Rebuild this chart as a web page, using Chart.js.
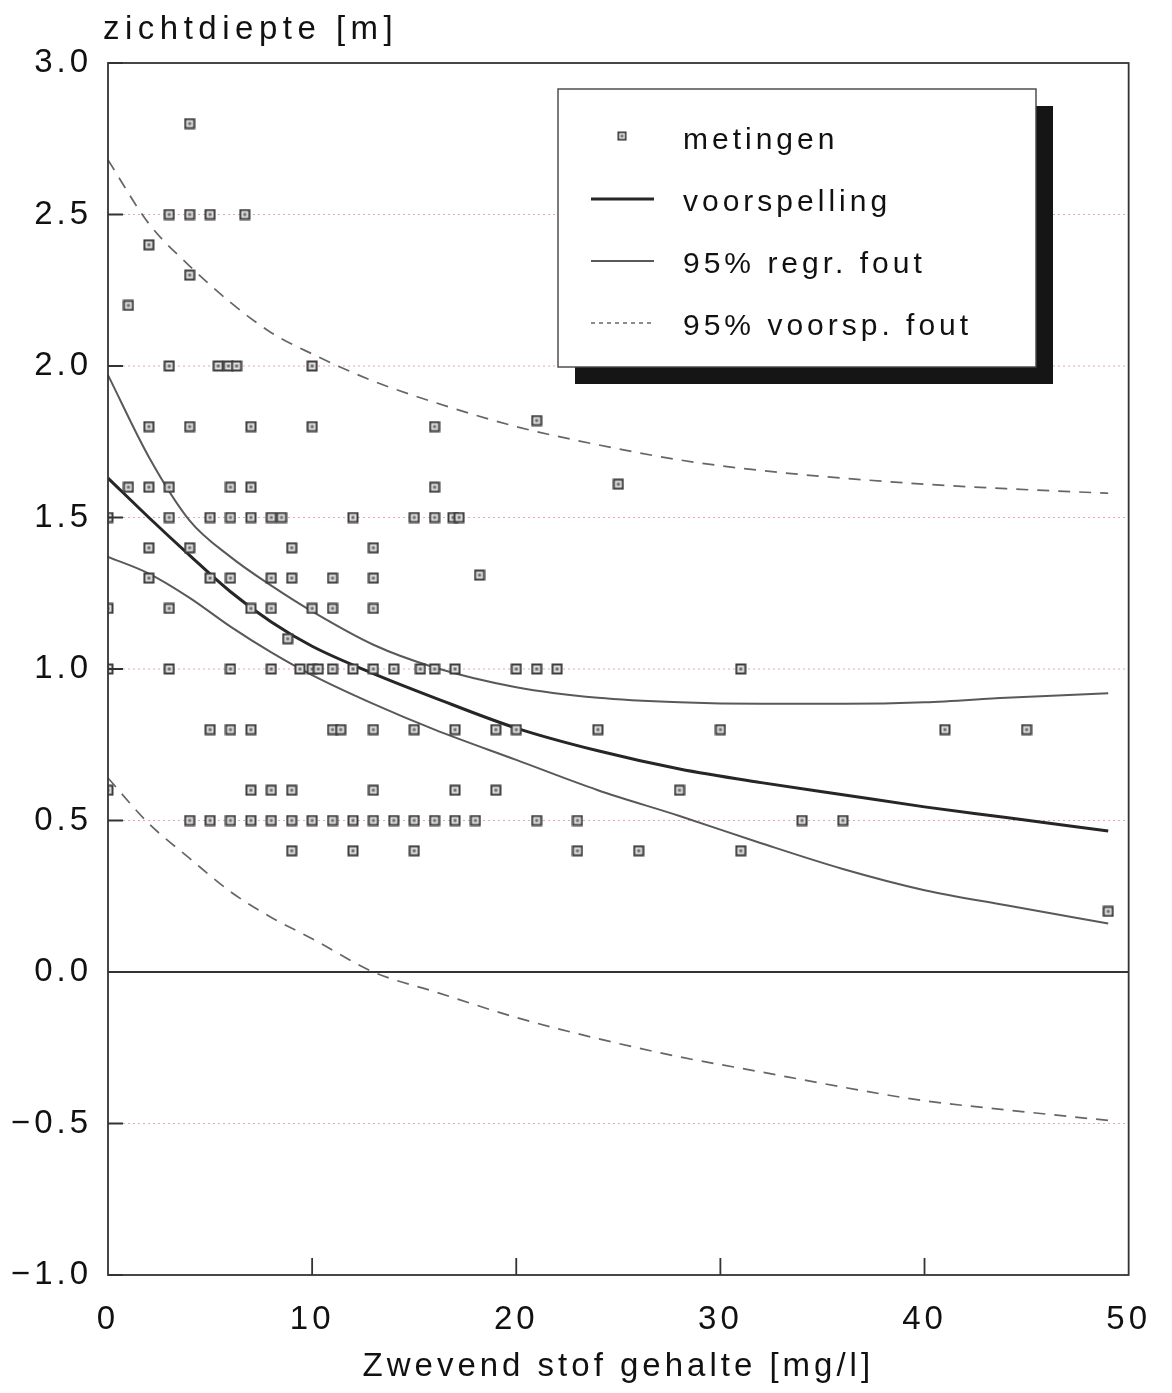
<!DOCTYPE html>
<html>
<head>
<meta charset="utf-8">
<script src="https://cdn.jsdelivr.net/npm/chart.js@4.4.1/dist/chart.umd.min.js"></script>
<style>
  html, body { margin: 0; padding: 0; background: #fff; }
  #wrap { width: 1172px; height: 1393px; }
</style>
</head>
<body>
<div id="wrap"><canvas id="chart" width="1172" height="1393"></canvas></div>
<script>
// metingen (measurements)
const measX = [
  4,
  3, 4, 5, 6.7,
  2, 4, 1,
  3, 5.4, 5.9, 6.3, 10,
  2, 4, 7, 10, 16, 21,
  1, 2, 3, 6, 7, 16, 25,
  0, 3, 5, 6, 7, 8, 8.5, 12, 15, 16, 16.9, 17.2,
  2, 4, 9, 13,
  2, 5, 6, 8, 9, 11, 13, 18.2,
  0, 3, 7, 8, 10, 11, 13,
  8.8,
  0, 3, 6, 8, 9.4, 10, 10.3, 11, 12, 13, 14, 15.3, 16, 17, 20, 21, 22, 31,
  5, 6, 7, 11, 11.4, 13, 15, 17, 19, 20, 24, 30, 41, 45,
  0, 7, 8, 9, 13, 17, 19, 28,
  4, 5, 6, 7, 8, 9, 10, 11, 12, 13, 14, 15, 16, 17, 18, 21, 23, 34, 36,
  9, 12, 15, 23, 26, 31,
  49
]
const measY = [
  2.8,
  2.5, 2.5, 2.5, 2.5,
  2.4, 2.3, 2.2,
  2.0, 2.0, 2.0, 2.0, 2.0,
  1.8, 1.8, 1.8, 1.8, 1.8, 1.82,
  1.6, 1.6, 1.6, 1.6, 1.6, 1.6, 1.61,
  1.5, 1.5, 1.5, 1.5, 1.5, 1.5, 1.5, 1.5, 1.5, 1.5, 1.5, 1.5,
  1.4, 1.4, 1.4, 1.4,
  1.3, 1.3, 1.3, 1.3, 1.3, 1.3, 1.3, 1.31,
  1.2, 1.2, 1.2, 1.2, 1.2, 1.2, 1.2,
  1.1,
  1.0, 1.0, 1.0, 1.0, 1.0, 1.0, 1.0, 1.0, 1.0, 1.0, 1.0, 1.0, 1.0, 1.0, 1.0, 1.0, 1.0, 1.0,
  0.8, 0.8, 0.8, 0.8, 0.8, 0.8, 0.8, 0.8, 0.8, 0.8, 0.8, 0.8, 0.8, 0.8,
  0.6, 0.6, 0.6, 0.6, 0.6, 0.6, 0.6, 0.6,
  0.5, 0.5, 0.5, 0.5, 0.5, 0.5, 0.5, 0.5, 0.5, 0.5, 0.5, 0.5, 0.5, 0.5, 0.5, 0.5, 0.5, 0.5, 0.5,
  0.4, 0.4, 0.4, 0.4, 0.4, 0.4,
  0.2
]

const curveX   = [0, 2, 4, 6, 8, 10, 13, 16, 20, 24, 28, 32, 36, 40, 44, 49]
const voorspel = [1.63, 1.50, 1.375, 1.255, 1.155, 1.075, 0.985, 0.905, 0.805, 0.73, 0.67, 0.625, 0.585, 0.545, 0.51, 0.465]
const regrHoog = [1.97, 1.70, 1.49, 1.37, 1.275, 1.19, 1.08, 1.005, 0.94, 0.905, 0.89, 0.885, 0.885, 0.89, 0.905, 0.92]
const regrLaag = [1.37, 1.315, 1.235, 1.14, 1.055, 0.98, 0.885, 0.80, 0.70, 0.60, 0.515, 0.425, 0.34, 0.27, 0.22, 0.16]
const vspHoog  = [2.68, 2.47, 2.33, 2.21, 2.11, 2.04, 1.95, 1.88, 1.80, 1.74, 1.69, 1.655, 1.63, 1.61, 1.595, 1.58]
const vspLaag  = [0.64, 0.49, 0.375, 0.265, 0.18, 0.11, 0.0, -0.065, -0.15, -0.22, -0.28, -0.33, -0.38, -0.425, -0.455, -0.49]

const xTicks = [0, 10, 20, 30, 40, 50]
const yTicks = [-1, -0.5, 0, 0.5, 1, 1.5, 2, 2.5, 3]

const FONT = "'Liberation Sans', Arial, Helvetica, sans-serif"
const INK = "#111"

// square marker with a dot in the middle
const marker = document.createElement("canvas")
marker.width = 12
marker.height = 12
const mc = marker.getContext("2d")
mc.fillStyle = "#e0e0e0"
mc.fillRect(1, 1, 10, 10)
mc.strokeStyle = "#3c3c3c"
mc.lineWidth = 2
mc.strokeRect(1.5, 1.5, 9, 9)
mc.fillStyle = "#6a6a6a"
mc.fillRect(4.5, 4.5, 3, 3)

const pts = (xs, ys) => xs.map((x, i) => ({ x: x, y: ys[i] }))

const lineBase = {
  type: "line",
  showLine: true,
  pointRadius: 0,
  fill: false,
  cubicInterpolationMode: "monotone"
}

const framePlugin = {
  id: "frame",
  beforeDraw(chart) {
    chart.ctx.letterSpacing = "4px"
  },
  beforeDatasetsDraw(chart) {
    const { ctx, chartArea: a, scales } = chart
    ctx.save()
    yTicks.forEach(v => {
      const py = scales.y.getPixelForValue(v)
      if (v === 0) {
        ctx.strokeStyle = "#333"
        ctx.lineWidth = 1.8
        ctx.setLineDash([])
      } else if (v > -1 && v < 3) {
        ctx.strokeStyle = "#e6a8a8"
        ctx.lineWidth = 1
        ctx.setLineDash([2, 3])
      } else return
      ctx.beginPath()
      ctx.moveTo(a.left, py)
      ctx.lineTo(a.right, py)
      ctx.stroke()
    })
    ctx.restore()
  },
  afterDatasetsDraw(chart) {
    const { ctx, chartArea: a, scales } = chart
    ctx.save()
    ctx.strokeStyle = "#333"
    ctx.lineWidth = 1.8
    ctx.setLineDash([])
    ctx.strokeRect(a.left, a.top, a.right - a.left, a.bottom - a.top)
    ctx.beginPath()
    yTicks.forEach(v => {
      const py = scales.y.getPixelForValue(v)
      ctx.moveTo(a.left, py)
      ctx.lineTo(a.left + 15, py)
    })
    xTicks.slice(1, -1).forEach(v => {
      const px = scales.x.getPixelForValue(v)
      ctx.moveTo(px, a.bottom)
      ctx.lineTo(px, a.bottom - 17)
    })
    ctx.stroke()
    ctx.restore()
  },
  afterDraw(chart) {
    const ctx = chart.ctx
    ctx.save()
    ctx.letterSpacing = "5.5px"
    ctx.fillStyle = INK
    ctx.font = "33px " + FONT
    ctx.textAlign = "left"
    ctx.textBaseline = "alphabetic"
    ctx.fillText("zichtdiepte [m]", 103, 39)

    // legend box with shadow
    const bx = 558, by = 89, bw = 478, bh = 278
    ctx.fillStyle = "#151515"
    ctx.fillRect(bx + 17, by + 17, bw, bh)
    ctx.fillStyle = "#fff"
    ctx.fillRect(bx, by, bw, bh)
    ctx.strokeStyle = "#444"
    ctx.lineWidth = 1.4
    ctx.strokeRect(bx, by, bw, bh)

    const items = chart.data.datasets.filter(d => d.inLegend !== false)
    ctx.font = "30px " + FONT
    ctx.letterSpacing = "4px"
    ctx.textBaseline = "middle"
    items.forEach((d, i) => {
      const cy = 137 + i * 62
      if (d.type === "line") {
        ctx.strokeStyle = d.borderColor
        ctx.lineWidth = d.borderWidth
        ctx.setLineDash(d.borderDash ? [4, 4] : [])
        ctx.beginPath()
        ctx.moveTo(591, cy)
        ctx.lineTo(654, cy)
        ctx.stroke()
        ctx.setLineDash([])
      } else {
        ctx.drawImage(marker, 622 - 5, cy - 6, 10, 10)
      }
      ctx.fillStyle = INK
      ctx.fillText(d.label, 683, cy + 4)
    })
    ctx.restore()
  }
}

const chart = new Chart(document.getElementById("chart"), {
  type: "scatter",
  data: {
    datasets: [
      {
        label: "metingen",
        data: pts(measX, measY),
        pointStyle: marker,
        pointRadius: 6,
        showLine: false
      },
      Object.assign({}, lineBase, {
        label: "voorspelling",
        data: pts(curveX, voorspel),
        borderColor: "#262626",
        borderWidth: 3
      }),
      Object.assign({}, lineBase, {
        label: "95% regr. fout",
        data: pts(curveX, regrHoog),
        borderColor: "#595959",
        borderWidth: 2
      }),
      Object.assign({}, lineBase, {
        label: "95% regr. fout",
        inLegend: false,
        data: pts(curveX, regrLaag),
        borderColor: "#595959",
        borderWidth: 2
      }),
      Object.assign({}, lineBase, {
        label: "95% voorsp. fout",
        data: pts(curveX, vspHoog),
        borderColor: "#666",
        borderWidth: 1.7,
        borderDash: [12, 9]
      }),
      Object.assign({}, lineBase, {
        label: "95% voorsp. fout",
        inLegend: false,
        data: pts(curveX, vspLaag),
        borderColor: "#666",
        borderWidth: 1.7,
        borderDash: [12, 9]
      })
    ]
  },
  options: {
    responsive: false,
    animation: false,
    layout: { padding: { top: 63, right: 40, left: 0, bottom: 0 } },
    plugins: {
      legend: { display: false },
      tooltip: { enabled: false }
    },
    scales: {
      x: {
        type: "linear",
        min: 0,
        max: 50,
        afterBuildTicks: s => { s.ticks = xTicks.map(v => ({ value: v })) },
        ticks: {
          padding: 25,
          color: INK,
          font: { family: FONT, size: 33 },
          maxRotation: 0
        },
        grid: { display: false, drawTicks: false },
        border: { display: false },
        title: {
          display: true,
          text: "Zwevend stof gehalte [mg/l]",
          color: INK,
          font: { family: FONT, size: 33 },
          padding: { top: 0, bottom: 6 }
        },
        afterFit: s => { s.height = 118 }
      },
      y: {
        min: -1,
        max: 3,
        afterBuildTicks: s => { s.ticks = yTicks.map(v => ({ value: v })) },
        ticks: {
          padding: 16,
          color: INK,
          font: { family: FONT, size: 33 },
          callback: v => v < 0 ? "\u2212" + Math.abs(v).toFixed(1) : v.toFixed(1)
        },
        grid: { display: false, drawTicks: false },
        border: { display: false },
        afterFit: s => { s.height = undefined, s.width = 108 }
      }
    }
  },
  plugins: [framePlugin]
})
</script>
</body>
</html>
